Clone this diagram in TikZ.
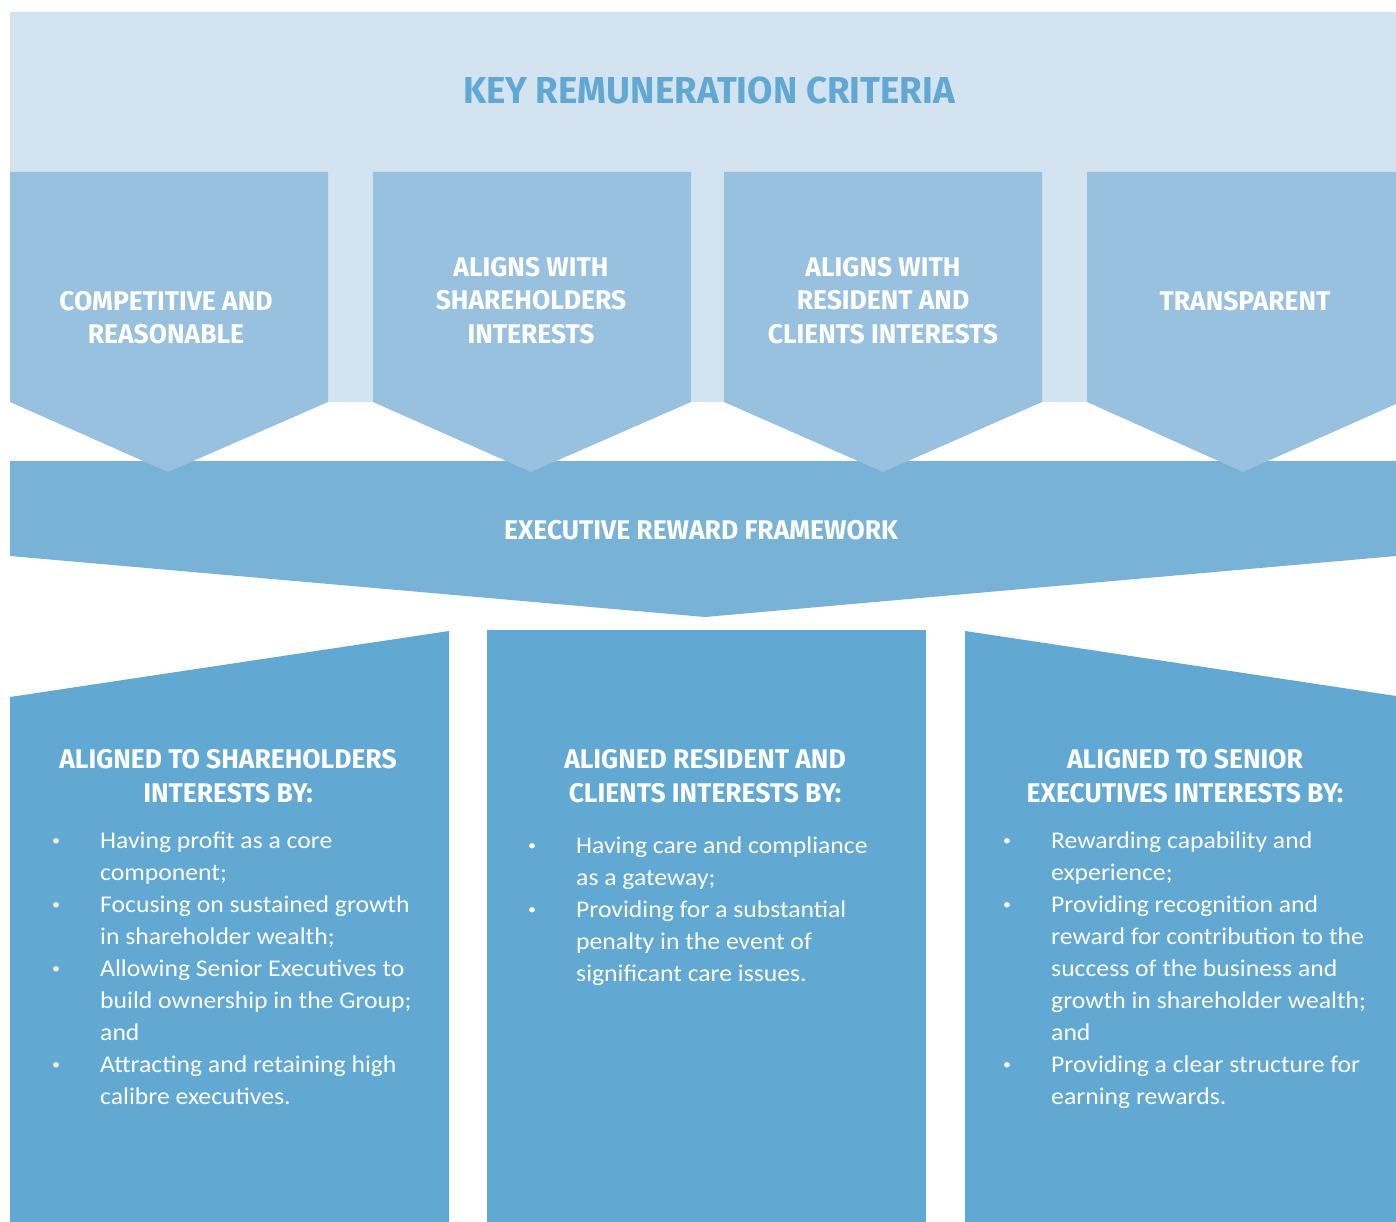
\documentclass[tikz,border=0pt]{standalone}
\usepackage{fontspec}
\setmainfont[FakeStretch=1.07]{Carlito}
\newfontfamily\capsfont[FakeStretch=0.98]{Fira Sans}

\definecolor{paleblue}{HTML}{D3E3F0}
\definecolor{colblue}{HTML}{97C1DF}
\definecolor{bandblue}{HTML}{78B2D6}
\definecolor{boxblue}{HTML}{61A8D2}

\newcommand{\bul}{\makebox[50pt][l]{\hspace{2pt}\raisebox{3pt}{\fontsize{15}{15}\selectfont\textbullet}}}
\newcommand{\cnt}{\hspace*{50pt}}

\tikzset{
  crit/.style={text=white,inner sep=0pt,align=center,font=\capsfont\bfseries\fontsize{27}{33.5}\selectfont},
  items/.style={text=white,inner sep=0pt,anchor=base west}
}

\begin{document}
\begin{tikzpicture}[x=1pt,y=-1pt]
	\useasboundingbox (0,0) rectangle (1396,1222);
	% criteria panel
	\fill[paleblue] (10,12) rectangle (1396,402);
	\node[crit,text=boxblue,font=\capsfont\bfseries\fontsize{37.5}{40}\selectfont] (title) at (709,91) {KEY REMUNERATION CRITERIA};
	
	\fill[bandblue] (10,461) -- (1396,461) -- (1396,556) -- (705,617) -- (10,556) -- cycle;
	\node[crit] (frame) at (701,530) {EXECUTIVE REWARD FRAMEWORK};
	
	\fill[colblue] (10,172) -- (328,172) -- (328,402) -- (168,472) -- (10,402) -- cycle;
	\fill[colblue] (373,172) -- (691,172) -- (691,402) -- (531,472) -- (373,402) -- cycle;
	\fill[colblue] (724,172) -- (1042,172) -- (1042,402) -- (883,472) -- (724,402) -- cycle;
	\fill[colblue] (1087,172) -- (1396,172) -- (1396,404) -- (1243,472) -- (1087,402) -- cycle;
	\node[crit] (compet) at (166,317.5) {COMPETITIVE AND\\REASONABLE};
	\node[crit] (sharecrit) at (531,300.5) {ALIGNS WITH\\SHAREHOLDERS\\INTERESTS};
	\node[crit] (residcrit) at (883,300.5) {ALIGNS WITH\\RESIDENT AND\\CLIENTS INTERESTS};
	\node[crit] (transp) at (1245,301) {TRANSPARENT};
	
	% interest boxes
	\fill[boxblue] (10,697) -- (449,631) -- (449,1222) -- (10,1222) -- cycle;
	\fill[boxblue] (487,630) rectangle (926,1222);
	\fill[boxblue] (965,631) -- (1396,696) -- (1396,1222) -- (965,1222) -- cycle;
	
	\node[crit] (sharehead) at (228,776) {ALIGNED TO SHAREHOLDERS\\INTERESTS BY:};
	\node[crit] (residhead) at (705,776) {ALIGNED RESIDENT AND\\CLIENTS INTERESTS BY:};
	\node[crit] (seniorhead) at (1185,776) {ALIGNED TO SENIOR\\EXECUTIVES INTERESTS BY:};
	
	\node[items] (sharelist) at (50,848) {\parbox[t]{390pt}{\fontsize{24}{32}\selectfont
		\bul Having profit as a core\\
		\cnt component;\\
		\bul Focusing on sustained growth\\
		\cnt in shareholder wealth;\\
		\bul Allowing Senior Executives to\\
		\cnt build ownership in the Group;\\
		\cnt and\\
		\bul Attracting and retaining high\\
		\cnt calibre executives.}};
	\node[items] (residlist) at (526,853) {\parbox[t]{390pt}{\fontsize{24}{32}\selectfont
		\bul Having care and compliance\\
		\cnt as a gateway;\\
		\bul Providing for a substantial\\
		\cnt penalty in the event of\\
		\cnt significant care issues.}};
	\node[items] (seniorlist) at (1001,848) {\parbox[t]{390pt}{\fontsize{24}{32}\selectfont
		\bul Rewarding capability and\\
		\cnt experience;\\
		\bul Providing recognition and\\
		\cnt reward for contribution to the\\
		\cnt success of the business and\\
		\cnt growth in shareholder wealth;\\
		\cnt and\\
		\bul Providing a clear structure for\\
		\cnt earning rewards.}};
\end{tikzpicture}
\end{document}
